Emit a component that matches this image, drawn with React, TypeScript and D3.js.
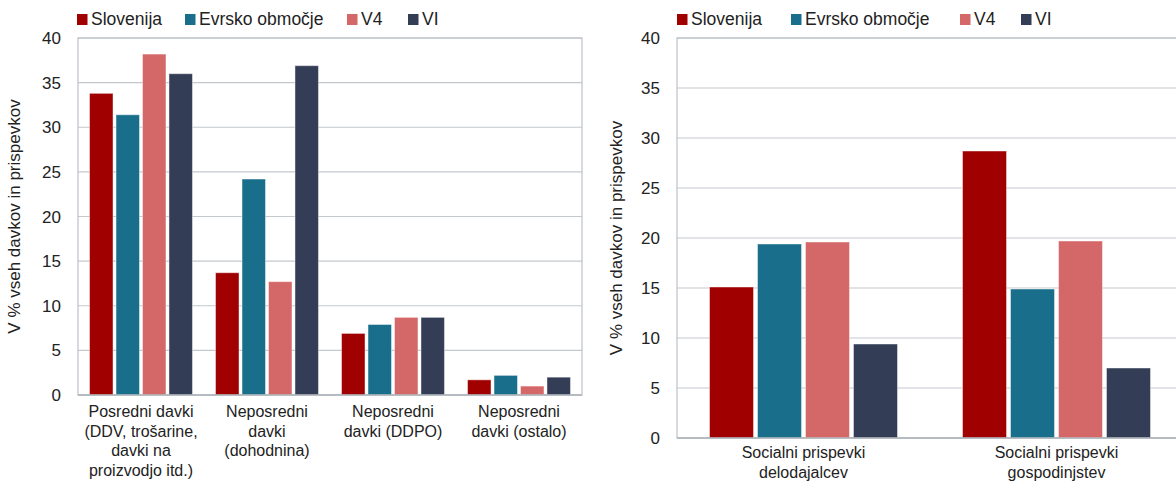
import React, { useEffect } from 'react'
import * as d3 from 'd3'

const series = ['Slovenija', 'Evrsko območje', 'V4', 'VI']
const colors = ['#A00000', '#196F8B', '#D46767', '#333D56']

const leftCategories = [
  ['Posredni davki', '(DDV, trošarine,', 'davki na', 'proizvodjo itd.)'],
  ['Neposredni', 'davki', '(dohodnina)'],
  ['Neposredni', 'davki (DDPO)'],
  ['Neposredni', 'davki (ostalo)'],
]
const leftSlovenija = [33.8, 13.7, 6.9, 1.7]
const leftEvro = [31.4, 24.2, 7.9, 2.2]
const leftV4 = [38.2, 12.7, 8.7, 1.0]
const leftVI = [36.0, 36.9, 8.7, 2.0]

const rightCategories = [
  ['Socialni prispevki', 'delodajalcev'],
  ['Socialni prispevki', 'gospodinjstev'],
]
const rightSlovenija = [15.1, 28.7]
const rightEvro = [19.4, 14.9]
const rightV4 = [19.6, 19.7]
const rightVI = [9.4, 7.0]

const yTicks = [0, 5, 10, 15, 20, 25, 30, 35, 40]
const yTitle = 'V % vseh davkov in prispevkov'

const FONT = "'Liberation Sans', Arial, sans-serif"

interface PanelProps {
  x0: number
  x1: number
  yTop: number
  yBottom: number
  categories: string[][]
  values: number[][]
  groupPad: number
  barPad: number
  legendX: number[]
  titleX: number
  tickX: number
  labelOffset: number
}

function Panel(p: PanelProps) {
  const y = d3.scaleLinear().domain([0, 40]).range([p.yBottom, p.yTop])
  const gx = d3.scaleBand<number>()
    .domain(p.categories.map((_, i) => i))
    .range([p.x0, p.x1])
    .paddingInner(p.groupPad)
    .paddingOuter(p.groupPad / 2)
  const sx = d3.scaleBand<number>()
    .domain(series.map((_, i) => i))
    .range([0, gx.bandwidth()])
    .paddingInner(p.barPad)
  const midY = (p.yTop + p.yBottom) / 2

  return (
    <g>
      {/* legend */}
      {series.map((s, i) => (
        <g key={s}>
          <rect x={p.legendX[i]} y={14} width={10.5} height={11} fill={colors[i]} />
          <text x={p.legendX[i] + 14} y={25} fontSize={17.5} fill="#222">{s}</text>
        </g>
      ))}
      {/* grid */}
      {yTicks.map(t => (
        <g key={t}>
          <line x1={p.x0} x2={p.x1} y1={y(t)} y2={y(t)} stroke="#C3C8CD" strokeWidth={1.2} />
          <text x={p.tickX} y={y(t) + 6} fontSize={17} textAnchor="end" fill="#222">{t}</text>
        </g>
      ))}
      <rect x={p.x0} y={p.yTop} width={p.x1 - p.x0} height={p.yBottom - p.yTop} fill="none" stroke="#BCC2C8" strokeWidth={1.2} />
      {/* bars */}
      {p.categories.map((_, ci) => (
        <g key={ci} transform={`translate(${gx(ci)},0)`}>
          {series.map((s, si) => {
            const v = p.values[si][ci]
            return (
              <rect key={s} x={sx(si)} y={y(v)} width={sx.bandwidth()} height={y(0) - y(v)}
                fill={colors[si]} stroke="#ffffff" strokeOpacity={0.45} strokeWidth={1} />
            )
          })}
        </g>
      ))}
      <line x1={p.x0} x2={p.x1} y1={y(0)} y2={y(0)} stroke="#AEB4BA" strokeWidth={1.5} />
      {/* category labels */}
      {p.categories.map((lines, ci) => (
        <text key={ci} textAnchor="middle" fontSize={16} fill="#222">
          {lines.map((l, li) => (
            <tspan key={li} x={(gx(ci) as number) + gx.bandwidth() / 2} y={p.yBottom + p.labelOffset + li * 19.5}>{l}</tspan>
          ))}
        </text>
      ))}
      <text transform={`translate(${p.titleX},${midY}) rotate(-90)`} textAnchor="middle" fontSize={17} fill="#222">{yTitle}</text>
    </g>
  )
}

export default function App() {
  useEffect(() => {
    document.body.style.margin = '0'
  }, [])

  return (
    <svg width={1176} height={482} style={{ display: 'block', fontFamily: FONT, background: '#fff' }}>
      <Panel x0={78} x1={582} yTop={38} yBottom={395}
        categories={leftCategories}
        values={[leftSlovenija, leftEvro, leftV4, leftVI]}
        groupPad={0.183} barPad={0.113}
        legendX={[77, 185, 347, 408]} titleX={20} tickX={61} labelOffset={22} />
      <Panel x0={677} x1={1183} yTop={38} yBottom={438}
        categories={rightCategories}
        values={[rightSlovenija, rightEvro, rightV4, rightVI]}
        groupPad={0.257} barPad={0.083}
        legendX={[677, 791, 960, 1021]} titleX={622} tickX={660} labelOffset={20} />
    </svg>
  )
}
